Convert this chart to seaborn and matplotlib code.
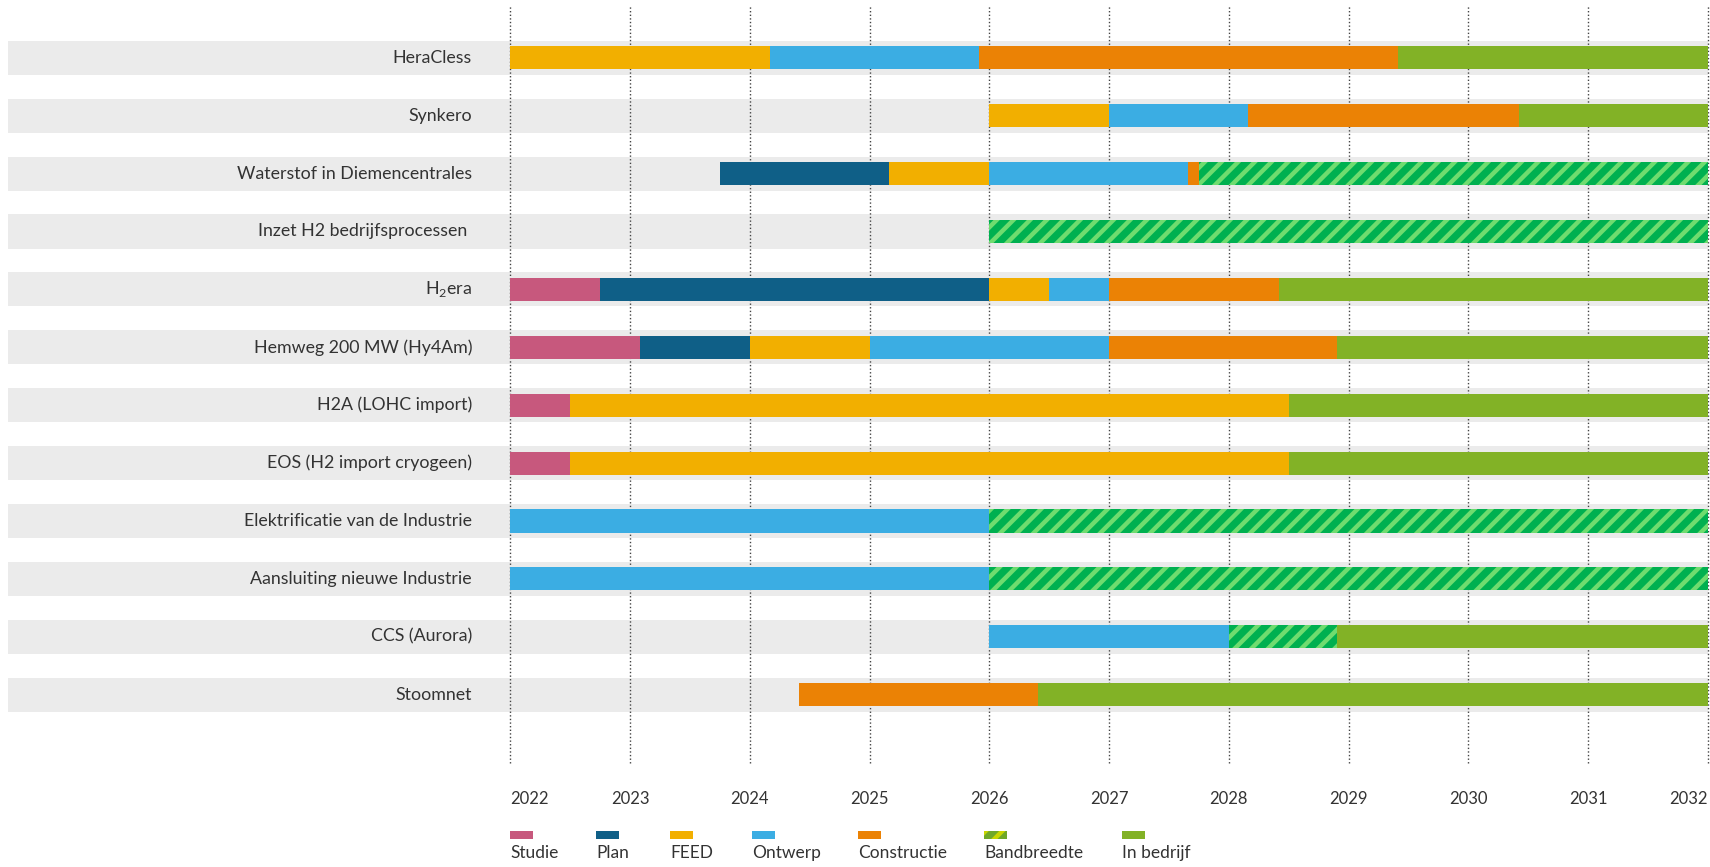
"""
plot.py — Planning van energieprojecten (Gantt-overzicht per fase)
"""

import matplotlib
matplotlib.use('Agg')
import matplotlib.pyplot as plt
import matplotlib.patches as mpatches
import pandas as pd
import seaborn as sns

# ── Data ─────────────────────────────────────────────────────────────────────
PROJECTS = [
    'HeraCless',
    'Synkero',
    'Waterstof in Diemencentrales',
    'Inzet H2 bedrijfsprocessen ',
    r'H$_{\mathregular{2}}$era',
    'Hemweg 200 MW (Hy4Am)',
    'H2A (LOHC import)',
    'EOS (H2 import cryogeen)',
    'Elektrificatie van de Industrie',
    'Aansluiting nieuwe Industrie',
    'CCS (Aurora)',
    'Stoomnet',
]

YEARS = list(range(2022, 2033))
PHASES = ['Studie', 'Plan', 'FEED', 'Ontwerp', 'Constructie', 'Bandbreedte', 'In bedrijf']

# (fase, start, eind) per project
HERACLESS   = [('FEED', 2022.0, 2024.17), ('Ontwerp', 2024.17, 2025.91),
               ('Constructie', 2025.91, 2029.41), ('In bedrijf', 2029.41, 2032.0)]
SYNKERO     = [('FEED', 2026.0, 2027.0), ('Ontwerp', 2027.0, 2028.16),
               ('Constructie', 2028.16, 2030.42), ('In bedrijf', 2030.42, 2032.0)]
DIEMEN      = [('Plan', 2023.75, 2025.16), ('FEED', 2025.16, 2026.0),
               ('Ontwerp', 2026.0, 2027.66), ('Constructie', 2027.66, 2027.75),
               ('Bandbreedte', 2027.75, 2032.0)]
INZET_H2    = [('Bandbreedte', 2026.0, 2032.0)]
H2ERA       = [('Studie', 2022.0, 2022.75), ('Plan', 2022.75, 2026.0),
               ('FEED', 2026.0, 2026.5), ('Ontwerp', 2026.5, 2027.0),
               ('Constructie', 2027.0, 2028.42), ('In bedrijf', 2028.42, 2032.0)]
HEMWEG      = [('Studie', 2022.0, 2023.08), ('Plan', 2023.08, 2024.0),
               ('FEED', 2024.0, 2025.0), ('Ontwerp', 2025.0, 2027.0),
               ('Constructie', 2027.0, 2028.9), ('In bedrijf', 2028.9, 2032.0)]
H2A         = [('Studie', 2022.0, 2022.5), ('FEED', 2022.5, 2028.5),
               ('In bedrijf', 2028.5, 2032.0)]
EOS         = [('Studie', 2022.0, 2022.5), ('FEED', 2022.5, 2028.5),
               ('In bedrijf', 2028.5, 2032.0)]
ELEKTRIF    = [('Ontwerp', 2022.0, 2026.0), ('Bandbreedte', 2026.0, 2032.0)]
AANSLUITING = [('Ontwerp', 2022.0, 2026.0), ('Bandbreedte', 2026.0, 2032.0)]
CCS         = [('Ontwerp', 2026.0, 2028.0), ('Bandbreedte', 2028.0, 2028.9),
               ('In bedrijf', 2028.9, 2032.0)]
STOOMNET    = [('Constructie', 2024.41, 2026.41), ('In bedrijf', 2026.41, 2032.0)]

SCHEDULES = [HERACLESS, SYNKERO, DIEMEN, INZET_H2, H2ERA, HEMWEG,
             H2A, EOS, ELEKTRIF, AANSLUITING, CCS, STOOMNET]

# ── Colours ──────────────────────────────────────────────────────────────────
PHASE_COLORS = {
    'Studie':      '#C7587D',
    'Plan':        '#0F5F87',
    'FEED':        '#F2AF00',
    'Ontwerp':     '#3BADE3',
    'Constructie': '#EB8205',
    'Bandbreedte': '#00B050',
    'In bedrijf':  '#82B226',
}
STRIPE_COLOR = '#6FDC6F'
BAND_COLOR   = '#EBEBEB'
TEXT_COLOR   = '#333333'

W, H = 1710, 867

sns.set_theme(style='white')
plt.rcParams['font.family'] = ['Lato', 'DejaVu Sans']
plt.rcParams['mathtext.fontset'] = 'custom'
plt.rcParams['mathtext.rm'] = 'Lato'
plt.rcParams['hatch.linewidth'] = 3.2
plt.rcParams['text.color'] = TEXT_COLOR


def bar_style(phase):
    if phase == 'Bandbreedte':
        return dict(facecolor=PHASE_COLORS[phase], edgecolor=STRIPE_COLOR,
                    hatch='//', linewidth=0)
    return dict(facecolor=PHASE_COLORS[phase], linewidth=0)


def legend_style(phase):
    # the legend swatch for Bandbreedte uses olive / yellow-green stripes
    if phase == 'Bandbreedte':
        return dict(facecolor='#6FA828', edgecolor='#C9D600',
                    hatch='//', linewidth=0)
    return bar_style(phase)


def main():
    fig = plt.figure(figsize=(W / 100, H / 100), dpi=100)
    ax = fig.add_axes([8 / W, (H - 763) / H, (1709 - 8) / W, (763 - 5) / H])

    # grey row bands (clipped at the left edge of the axes)
    bands = pd.DataFrame({'project': PROJECTS, 'end': [YEARS[-1]] * len(PROJECTS)})
    sns.barplot(data=bands, x='end', y='project', orient='h', color=BAND_COLOR,
                saturation=1, width=0.59, errorbar=None, linewidth=0, ax=ax,
                zorder=0)

    for yr in YEARS:
        ax.axvline(yr, color='#444444', lw=1.0, ls=(0, (1, 1.6)), zorder=1,
                   clip_on=False)

    for i, (name, sched) in enumerate(zip(PROJECTS, SCHEDULES)):
        for phase, start, end in sched:
            ax.barh(i, end - start, left=start, height=0.40, zorder=2,
                    **bar_style(phase))
        ax.text(YEARS[0] - 0.32, i, name, ha='right', va='center',
                fontsize=12.8, color=TEXT_COLOR)

    x0 = YEARS[0] - 502.4 / 119.75
    ax.set_xlim(x0, YEARS[-1] + 0.01)
    ax.set_ylim(12.18, -0.912)
    ax.set_xlabel('')
    ax.set_ylabel('')
    ax.set_yticks([])
    ax.set_xticks(YEARS)
    ax.set_xticklabels([str(y) for y in YEARS], fontsize=12, color=TEXT_COLOR)
    ax.tick_params(axis='x', length=0, pad=20)
    labels = ax.get_xticklabels()
    labels[0].set_ha('left')
    labels[-1].set_ha('right')
    sns.despine(ax=ax, left=True, bottom=True)

    # legend below the axis
    legend_x = [510, 596, 670, 752, 858, 984, 1122]
    for phase, px in zip(PHASES, legend_x):
        patch = mpatches.Rectangle((px / W, (H - 839) / H), 23 / W, 8 / H,
                                   transform=fig.transFigure, **legend_style(phase))
        fig.patches.append(patch)
        fig.text(px / W, (H - 858) / H, phase, ha='left', va='baseline',
                 fontsize=12.5, color=TEXT_COLOR)

    fig.savefig('out.png', dpi=100)
    plt.close(fig)


if __name__ == '__main__':
    main()
